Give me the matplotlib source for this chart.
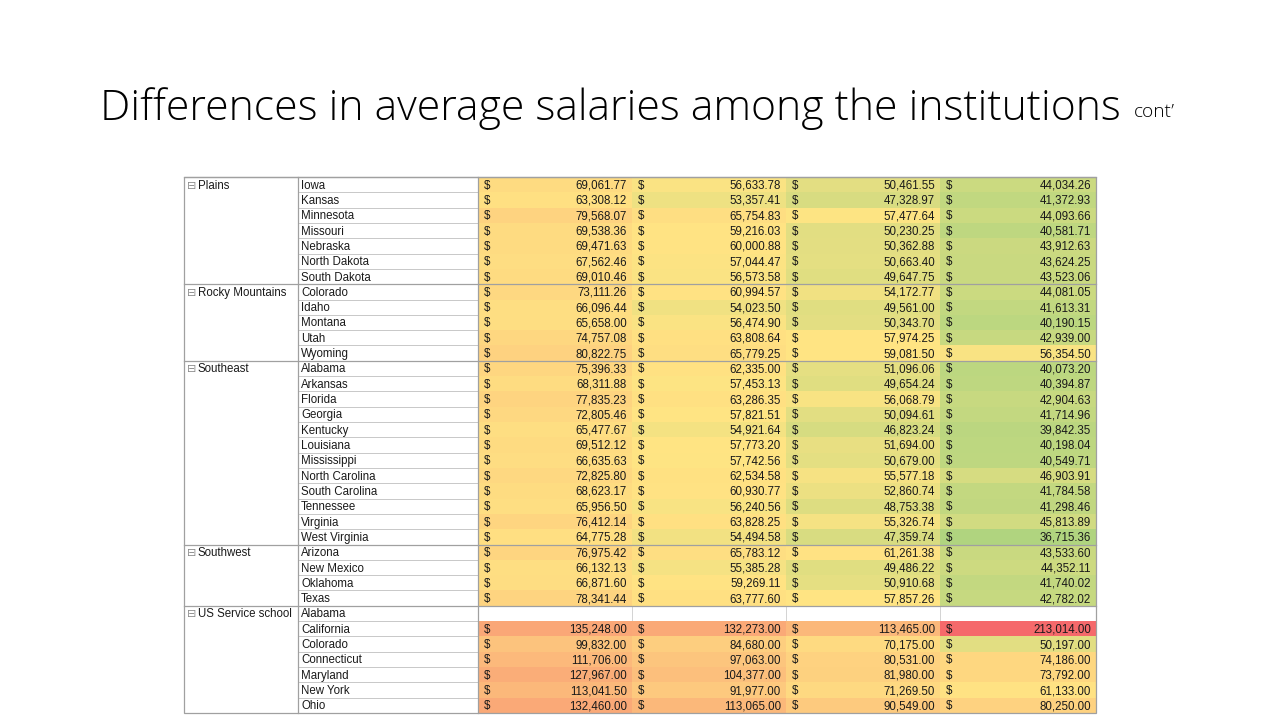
import matplotlib
matplotlib.use("Agg")
import matplotlib.pyplot as plt
from matplotlib.patches import Rectangle
from matplotlib.colors import LinearSegmentedColormap, TwoSlopeNorm
from matplotlib import font_manager as fm
import numpy as np

# table data
regions = ["Plains", "Rocky Mountains", "Southeast", "Southwest", "US Service school"]
region_sizes = [7, 5, 12, 4, 7]
states = [
    "Iowa", "Kansas", "Minnesota", "Missouri", "Nebraska", "North Dakota", "South Dakota",
    "Colorado", "Idaho", "Montana", "Utah", "Wyoming",
    "Alabama", "Arkansas", "Florida", "Georgia", "Kentucky", "Louisiana", "Mississippi",
    "North Carolina", "South Carolina", "Tennessee", "Virginia", "West Virginia",
    "Arizona", "New Mexico", "Oklahoma", "Texas",
    "Alabama", "California", "Colorado", "Connecticut", "Maryland", "New York", "Ohio",
]
col1 = [69061.77, 63308.12, 79568.07, 69538.36, 69471.63, 67562.46, 69010.46,
        73111.26, 66096.44, 65658.00, 74757.08, 80822.75,
        75396.33, 68311.88, 77835.23, 72805.46, 65477.67, 69512.12, 66635.63,
        72825.80, 68623.17, 65956.50, 76412.14, 64775.28,
        76975.42, 66132.13, 66871.60, 78341.44,
        None, 135248.00, 99832.00, 111706.00, 127967.00, 113041.50, 132460.00]
col2 = [56633.78, 53357.41, 65754.83, 59216.03, 60000.88, 57044.47, 56573.58,
        60994.57, 54023.50, 56474.90, 63808.64, 65779.25,
        62335.00, 57453.13, 63286.35, 57821.51, 54921.64, 57773.20, 57742.56,
        62534.58, 60930.77, 56240.56, 63828.25, 54494.58,
        65783.12, 55385.28, 59269.11, 63777.60,
        None, 132273.00, 84680.00, 97063.00, 104377.00, 91977.00, 113065.00]
col3 = [50461.55, 47328.97, 57477.64, 50230.25, 50362.88, 50663.40, 49647.75,
        54172.77, 49561.00, 50343.70, 57974.25, 59081.50,
        51096.06, 49654.24, 56068.79, 50094.61, 46823.24, 51694.00, 50679.00,
        55577.18, 52860.74, 48753.38, 55326.74, 47359.74,
        61261.38, 49486.22, 50910.68, 57857.26,
        None, 113465.00, 70175.00, 80531.00, 81980.00, 71269.50, 90549.00]
col4 = [44034.26, 41372.93, 44093.66, 40581.71, 43912.63, 43624.25, 43523.06,
        44081.05, 41613.31, 40190.15, 42939.00, 56354.50,
        40073.20, 40394.87, 42904.63, 41714.96, 39842.35, 40198.04, 40549.71,
        46903.91, 41784.58, 41298.46, 45813.89, 36715.36,
        43533.60, 44352.11, 41740.02, 42782.02,
        None, 213014.00, 50197.00, 74186.00, 73792.00, 61133.00, 80250.00]
value_cols = [col1, col2, col3, col4]

title = "Differences in average salaries among the institutions"
title_suffix = "cont\u2019"

# colour scale like Excel's green-yellow-red, midpoint at the median
all_vals = np.array([v for c in value_cols for v in c if v is not None])
cmap = LinearSegmentedColormap.from_list(
    "gyr", ["#b0d47f", "#ffe483", "#f5696b"])
norm = TwoSlopeNorm(vmin=all_vals.min(), vcenter=np.median(all_vals), vmax=all_vals.max())

fig = plt.figure(figsize=(12.8, 7.2), dpi=100)
ax = fig.add_axes([0, 0, 1, 1])
ax.set_xlim(0, 1280)
ax.set_ylim(720, 0)
ax.axis("off")

# layout (pixels)
x_edges = [184, 298, 478, 632, 786, 940, 1096]
top, bottom = 177, 713
n = len(states)
rh = (bottom - top) / n
tfont = dict(family="Liberation Sans", fontsize=8.3, color="#1a1a1a", va="center")

# value cells
for j, col in enumerate(value_cols):
    x0, x1 = x_edges[2 + j], x_edges[3 + j]
    for i, v in enumerate(col):
        y0 = top + i * rh
        if v is None:
            ax.add_patch(Rectangle((x0, y0), x1 - x0, rh, facecolor="white",
                                   edgecolor="#d0d0d0", lw=0.6))
            continue
        ax.add_patch(Rectangle((x0, y0), x1 - x0, rh, facecolor=cmap(norm(v)),
                               edgecolor="none"))
        ax.text(x0 + 6, y0 + rh / 2 + 1, "$", ha="left", **tfont)
        ax.text(x1 - 5, y0 + rh / 2 + 1, f"{v:,.2f}", ha="right", **tfont)

# state column lines and names
for i, s in enumerate(states):
    y0 = top + i * rh
    ax.plot([x_edges[1], x_edges[2]], [y0, y0], color="#c8c8c8", lw=0.7)
    ax.text(x_edges[1] + 3, y0 + rh / 2 + 1, s, ha="left", **tfont)

# region labels and separators
start = 0
for r, size in zip(regions, region_sizes):
    y0 = top + start * rh
    ax.plot([x_edges[0], x_edges[-1]], [y0, y0], color="#a0a0a0", lw=0.9)
    ax.text(x_edges[0] + 3, y0 + rh / 2 + 1, "\u229f", ha="left",
            family="DejaVu Sans", fontsize=8, color="#8a8a8a", va="center")
    ax.text(x_edges[0] + 14, y0 + rh / 2 + 1, r, ha="left", **tfont)
    start += size

# vertical lines and outer border
for x in x_edges[1:3]:
    ax.plot([x, x], [top, bottom], color="#a0a0a0", lw=0.9)
ax.add_patch(Rectangle((x_edges[0], top), x_edges[-1] - x_edges[0], bottom - top,
                       facecolor="none", edgecolor="#a0a0a0", lw=0.9))

# title, scaled to span the same width as in the slide
light = fm.FontProperties(fname=fm.findfont(fm.FontProperties(family="Open Sans", weight=300)))
t = ax.text(100, 120, title, ha="left", va="baseline", fontproperties=light,
            fontsize=30, color="#000000")
s = ax.text(1134, 117, title_suffix, ha="left", va="baseline", fontproperties=light,
            fontsize=12, color="#000000")
fig.canvas.draw()
t.set_fontsize(30 * 1022 / t.get_window_extent().width)
s.set_fontsize(12 * 41 / s.get_window_extent().width)

fig.savefig("out.png", dpi=100)
plt.close(fig)
